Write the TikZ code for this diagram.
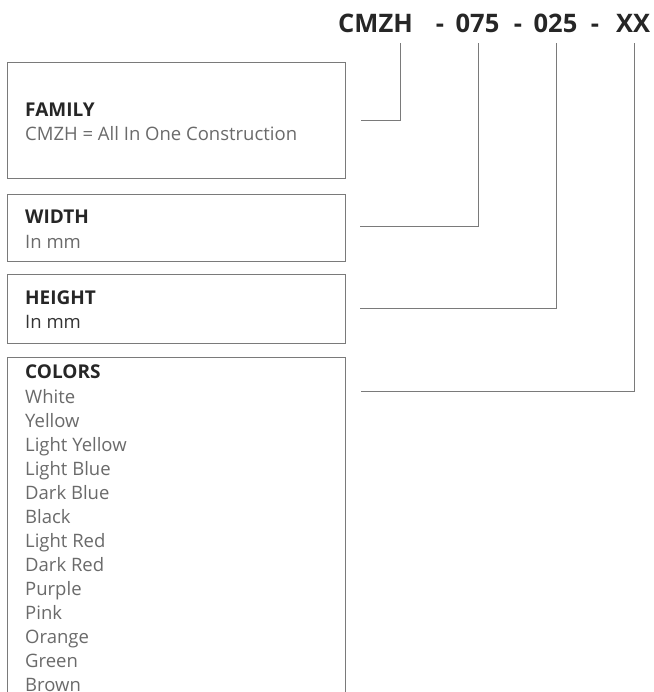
\documentclass[tikz,border=0pt]{standalone}
\usepackage{fontspec}
\setmainfont{Open Sans}
\definecolor{ttl}{HTML}{262626}
\definecolor{sub}{HTML}{6A6A6A}
\definecolor{subdark}{HTML}{333333}
\definecolor{frame}{HTML}{7A7A7A}
\begin{document}
\begin{tikzpicture}[x=1pt,y=-1pt,
  box/.style={draw=frame,line width=1pt},
  conn/.style={draw=frame,line width=1pt},
  code/.style={inner sep=0pt,anchor=base,font=\fontsize{25.5}{25.5}\selectfont\bfseries,text=ttl},
  head/.style={inner sep=0pt,anchor=base west,font=\fontsize{19}{19}\selectfont\bfseries,text=ttl},
  desc/.style={inner sep=0pt,anchor=base west,font=\fontsize{18.5}{18.5}\selectfont,text=sub}]
\useasboundingbox (0,0) rectangle (653,692);
% code line
\node[code] (cmzh) at (375.5,33) {CMZH};
\node[code] (d1) at (440,33) {-};
\node[code] (c075) at (477.5,33) {075};
\node[code] (d2) at (518,33) {-};
\node[code] (c025) at (555.5,33) {025};
\node[code] (d3) at (595,33) {-};
\node[code] (cxx) at (633,33) {XX};
% boxes
\draw[box] (7,63) rectangle (345,179);
\draw[box] (7,195) rectangle (345,261);
\draw[box] (7,274) rectangle (345,343);
\draw[box] (7,693) -- (7,357) -- (345,357) -- (345,693);
% texts
\node[head] (fam) at (25,117) {FAMILY};
\node[desc] (famd) at (25,141) {CMZH = All In One Construction};
\node[head] (wid) at (25,224) {WIDTH};
\node[desc] (widd) at (25,248) {In mm};
\node[head] (hei) at (25,304) {HEIGHT};
\node[desc,text=subdark] (heid) at (25,328) {In mm};
\node[head] (col) at (25,378) {COLORS};
\foreach \t [count=\i from 0] in {White,Yellow,Light Yellow,Light Blue,Dark Blue,Black,Light Red,Dark Red,Purple,Pink,Orange,Green,Brown}
  \node[desc] (col\i) at (25,403+24*\i) {\t};
% connectors
\coordinate (t1) at (400,43);
\coordinate (t2) at (478,43);
\coordinate (t3) at (556,43);
\coordinate (t4) at (634,43);
\coordinate (s1) at (361,121);
\coordinate (s2) at (360,227);
\coordinate (s3) at (360,308);
\coordinate (s4) at (361,391);
\draw[conn] (s1) -| (t1);
\draw[conn] (s2) -| (t2);
\draw[conn] (s3) -| (t3);
\draw[conn] (s4) -| (t4);
\end{tikzpicture}
\end{document}
